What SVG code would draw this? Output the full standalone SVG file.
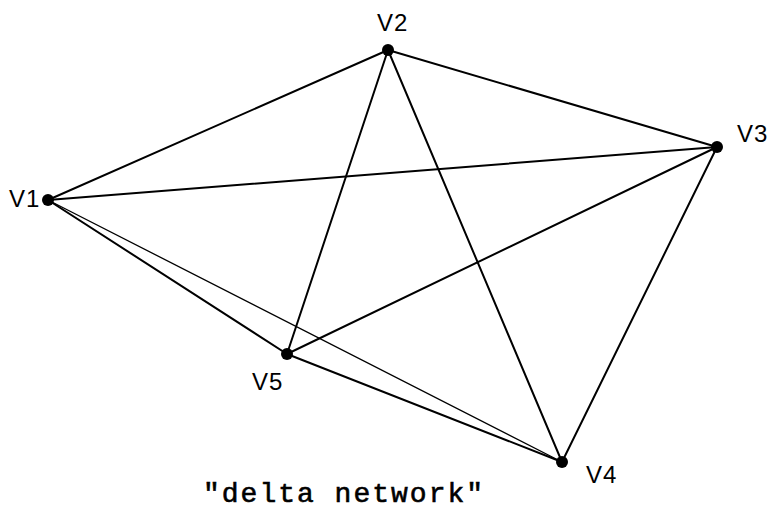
<svg xmlns="http://www.w3.org/2000/svg" width="775" height="517" viewBox="0 0 775 517">
<style>
.e{stroke:#000;stroke-width:2;fill:none;stroke-linecap:round}
.t{stroke-width:1.3}
.n{fill:#000}
.l{font-family:"Liberation Sans",Arial,sans-serif;font-size:24px;fill:#000;letter-spacing:1px}
.c{font-family:"Liberation Mono","Courier New",monospace;font-size:28px;fill:#000;letter-spacing:2px;stroke:#000;stroke-width:0.6}
</style>
<rect width="775" height="517" fill="#fff"/>
<g id="connectors">
<line class="e" x1="48" y1="200" x2="388" y2="50"/>
<line class="e" x1="48" y1="200" x2="717" y2="147"/>
<line class="e t" x1="48" y1="200" x2="562" y2="462"/>
<line class="e" x1="48" y1="200" x2="287" y2="354"/>
<line class="e" x1="388" y1="50" x2="717" y2="147"/>
<line class="e" x1="388" y1="50" x2="562" y2="462"/>
<line class="e" x1="388" y1="50" x2="287" y2="354"/>
<line class="e" x1="717" y1="147" x2="562" y2="462"/>
<line class="e" x1="717" y1="147" x2="287" y2="354"/>
<line class="e" x1="287" y1="354" x2="562" y2="462"/>
</g>
<g id="V1"><circle class="n" cx="48" cy="200" r="6"/><text class="l" x="9" y="207">V1</text></g>
<g id="V2"><circle class="n" cx="388" cy="50" r="6"/><text class="l" x="377" y="31">V2</text></g>
<g id="V3"><circle class="n" cx="717" cy="147" r="6"/><text class="l" x="737" y="142">V3</text></g>
<g id="V4"><circle class="n" cx="562" cy="462" r="6"/><text class="l" x="586" y="483">V4</text></g>
<g id="V5"><circle class="n" cx="287" cy="354" r="6"/><text class="l" x="252" y="390">V5</text></g>
<text class="c" x="203" y="502">"delta network"</text>
</svg>
